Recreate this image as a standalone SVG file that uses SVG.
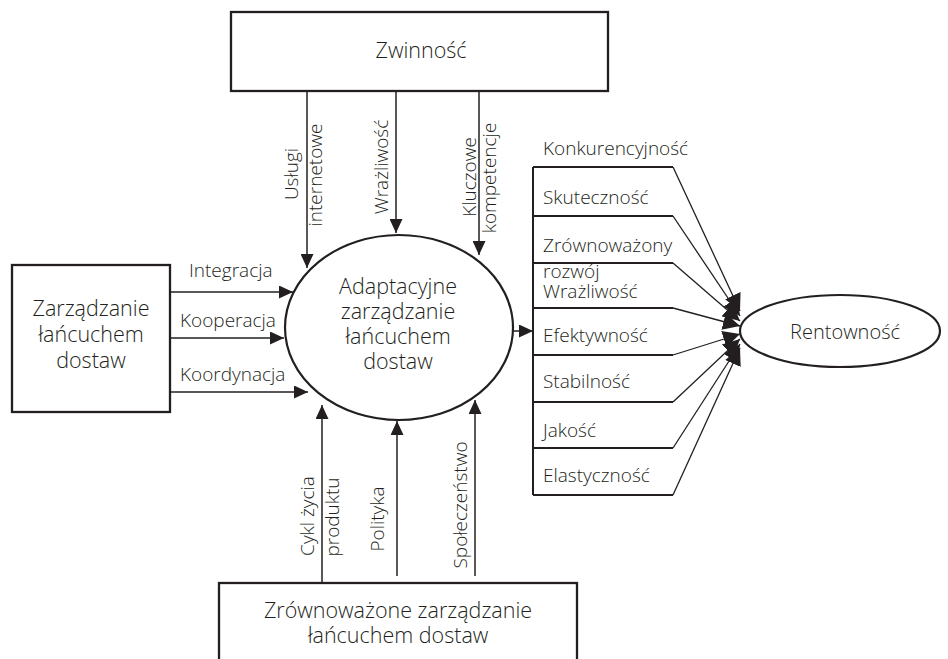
<svg xmlns="http://www.w3.org/2000/svg" width="948" height="659" viewBox="0 0 948 659">
  <style>
    .box { fill: #fff; stroke: #231f20; stroke-width: 2.3; }
    .oval { fill: #fff; stroke: #231f20; stroke-width: 2.2; }
    .frame { fill: none; stroke: #231f20; stroke-width: 2; }
    .ln { fill: none; stroke: #231f20; stroke-width: 1.5; }
    .diag { fill: none; stroke: #231f20; stroke-width: 1.3; }
    .big { font-family: "Open Sans", "Liberation Sans", sans-serif; font-weight: 300; font-size: 21.5px; fill: #231f20; text-anchor: middle; }
    .lbl { font-family: "Open Sans", "Liberation Sans", sans-serif; font-weight: 300; font-size: 19px; fill: #231f20; }
    .mid { text-anchor: middle; }
  </style>
  <defs>
    <marker id="arrow" markerUnits="userSpaceOnUse" markerWidth="15" markerHeight="13" refX="14" refY="6.5" orient="auto">
      <path d="M0,0 L14,6.5 L0,13 Z" fill="#231f20"/>
    </marker>
    <marker id="arrowFan" markerUnits="userSpaceOnUse" markerWidth="18" markerHeight="17" refX="17" refY="8.5" orient="auto">
      <path d="M0,0 L17,8.5 L0,17 Z" fill="#231f20"/>
    </marker>
  </defs>

  <!-- Top source: agility -->
  <g id="zwinnosc">
    <rect class="box" x="231" y="12" width="377" height="79"/>
    <text class="big" x="421" y="58">Zwinność</text>
  </g>

  <!-- Left source: supply chain management -->
  <g id="zarzadzanie-lancuchem">
    <rect class="box" x="12" y="265" width="158" height="147"/>
    <text class="big" x="91" y="316">Zarządzanie</text>
    <text class="big" x="91" y="342">łańcuchem</text>
    <text class="big" x="91" y="368">dostaw</text>
  </g>

  <!-- Central ellipse -->
  <g id="adaptacyjne">
    <ellipse class="oval" cx="399" cy="327.5" rx="114" ry="92.5"/>
    <text class="big" x="398" y="294">Adaptacyjne</text>
    <text class="big" x="398" y="319">zarządzanie</text>
    <text class="big" x="398" y="344">łańcuchem</text>
    <text class="big" x="398" y="369">dostaw</text>
  </g>

  <!-- Bottom source: sustainable supply chain management -->
  <g id="zrownowazone">
    <rect class="box" x="219" y="583" width="358" height="100"/>
    <text class="big" x="398" y="618">Zrównoważone zarządzanie</text>
    <text class="big" x="398" y="643">łańcuchem dostaw</text>
  </g>

  <!-- Outcome factors list -->
  <g id="czynniki">
    <path class="frame" d="M533,167 V495 M533,167 H673 M533,216 H673 M533,263 H673 M533,308 H673 M533,355 H673 M533,402 H673 M533,448 H673 M533,495 H673"/>
    <text class="lbl" x="543" y="155">Konkurencyjność</text>
    <text class="lbl" x="543" y="204">Skuteczność</text>
    <text class="lbl" x="543" y="252">Zrównoważony</text>
    <text class="lbl" x="543" y="278">rozwój</text>
    <text class="lbl" x="543" y="298">Wrażliwość</text>
    <text class="lbl" x="543" y="342">Efektywność</text>
    <text class="lbl" x="543" y="388">Stabilność</text>
    <text class="lbl" x="543" y="437">Jakość</text>
    <text class="lbl" x="543" y="482">Elastyczność</text>
  </g>

  <!-- Profitability -->
  <g id="rentownosc">
    <ellipse class="oval" cx="840" cy="331" rx="100" ry="36"/>
    <text class="big" x="845" y="339" style="font-size:20px">Rentowność</text>
  </g>

  <!-- Connectors -->
  <g id="connectors">
    <!-- from agility -->
    <line class="ln" x1="307" y1="91" x2="307" y2="268" marker-end="url(#arrow)"/>
    <line class="ln" x1="396" y1="91" x2="396" y2="233" marker-end="url(#arrow)"/>
    <line class="ln" x1="479" y1="91" x2="479" y2="255" marker-end="url(#arrow)"/>
    <!-- from supply chain management -->
    <line class="ln" x1="170" y1="292" x2="293" y2="292" marker-end="url(#arrow)"/>
    <line class="ln" x1="170" y1="338" x2="284" y2="338" marker-end="url(#arrow)"/>
    <line class="ln" x1="170" y1="392" x2="308" y2="392" marker-end="url(#arrow)"/>
    <!-- from sustainable management -->
    <line class="ln" x1="322" y1="583" x2="322" y2="405" marker-end="url(#arrow)"/>
    <line class="ln" x1="397" y1="576" x2="397" y2="421" marker-end="url(#arrow)"/>
    <line class="ln" x1="475" y1="576" x2="475" y2="400" marker-end="url(#arrow)"/>
    <!-- central to factors -->
    <line class="ln" x1="513" y1="331" x2="533" y2="331" marker-end="url(#arrow)"/>
    <!-- factors to profitability -->
    <line class="diag" x1="673" y1="167" x2="740" y2="311" marker-end="url(#arrowFan)"/>
    <line class="diag" x1="673" y1="216" x2="740" y2="316" marker-end="url(#arrowFan)"/>
    <line class="diag" x1="673" y1="263" x2="740" y2="321" marker-end="url(#arrowFan)"/>
    <line class="diag" x1="673" y1="308" x2="740" y2="326" marker-end="url(#arrowFan)"/>
    <line class="diag" x1="673" y1="355" x2="740" y2="334" marker-end="url(#arrowFan)"/>
    <line class="diag" x1="673" y1="402" x2="740" y2="339" marker-end="url(#arrowFan)"/>
    <line class="diag" x1="673" y1="448" x2="740" y2="344" marker-end="url(#arrowFan)"/>
    <line class="diag" x1="673" y1="495" x2="740" y2="348" marker-end="url(#arrowFan)"/>
  </g>

  <!-- Connector labels -->
  <g id="labels">
    <text class="lbl" x="189" y="277">Integracja</text>
    <text class="lbl" x="180" y="327">Kooperacja</text>
    <text class="lbl" x="180" y="381">Koordynacja</text>
    <text class="lbl mid" transform="translate(298,174) rotate(-90)">Usługi</text>
    <text class="lbl mid" transform="translate(322,175) rotate(-90)">internetowe</text>
    <text class="lbl mid" transform="translate(388,167) rotate(-90)">Wrażliwość</text>
    <text class="lbl mid" transform="translate(476,177) rotate(-90)">Kluczowe</text>
    <text class="lbl mid" transform="translate(496,178) rotate(-90)">kompetencje</text>
    <text class="lbl mid" transform="translate(314,516) rotate(-90)">Cykl życia</text>
    <text class="lbl mid" transform="translate(339,517) rotate(-90)">produktu</text>
    <text class="lbl mid" transform="translate(384,519) rotate(-90)">Polityka</text>
    <text class="lbl mid" transform="translate(467,505) rotate(-90)">Społeczeństwo</text>
  </g>
</svg>
